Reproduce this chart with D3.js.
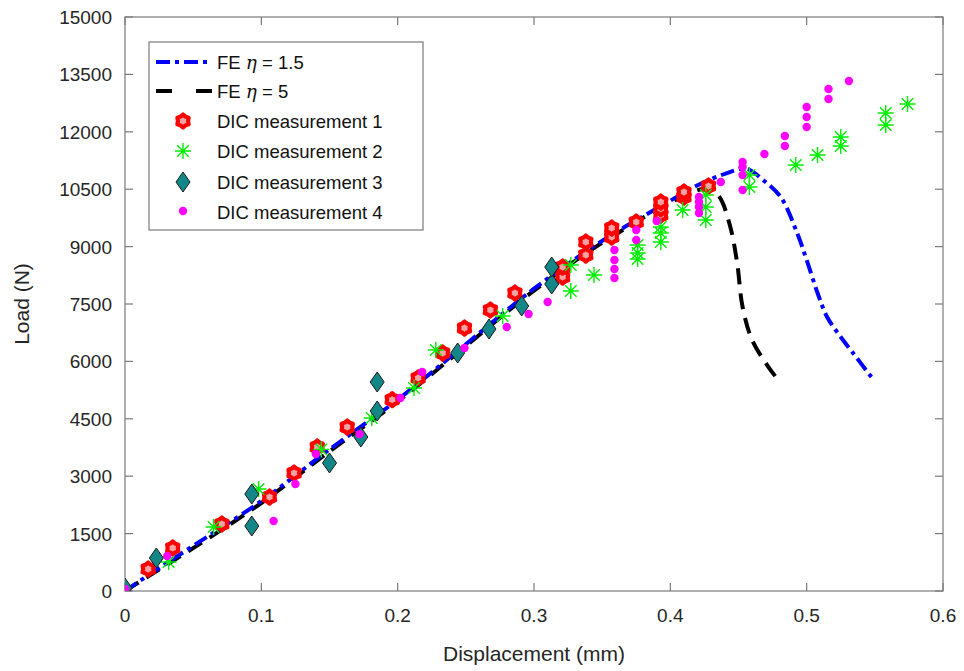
<!DOCTYPE html>
<html>
<head>
<meta charset="utf-8">
<script src="https://cdn.jsdelivr.net/npm/d3@7"></script>
<style>
  html, body { margin: 0; padding: 0; background: #fff; }
  svg { display: block; font-family: Arial, "Liberation Sans", Helvetica, sans-serif; }
</style>
</head>
<body>
<div id="chart"></div>
<script>
// ---- data (displacement mm, load N) ----
const feEta15 = [
  [0, 0], [0.02, 480], [0.05, 1180], [0.1, 2350], [0.15, 3700], [0.2, 5000],
  [0.25, 6450], [0.3, 7900], [0.35, 9150], [0.4, 10200], [0.417, 10550],
  [0.44, 10900], [0.456, 11030], [0.468, 10740], [0.481, 10295], [0.493, 9355],
  [0.5, 8650], [0.508, 7787], [0.515, 7160], [0.525, 6637], [0.534, 6219], [0.548, 5566]
]
const feEta5 = [
  [0, 0], [0.02, 450], [0.05, 1120], [0.1, 2300], [0.15, 3650], [0.2, 4950],
  [0.25, 6400], [0.3, 7850], [0.35, 9100], [0.4, 10150], [0.418, 10450],
  [0.428, 10520], [0.436, 10300], [0.444, 9511], [0.449, 8571], [0.453, 7421],
  [0.46, 6559], [0.472, 5853], [0.478, 5566]
]
const dic1 = [
  [0.017, 575], [0.035, 1124], [0.071, 1751], [0.106, 2456], [0.124, 3083],
  [0.141, 3763], [0.163, 4285], [0.196, 5000], [0.215, 5566], [0.233, 6219],
  [0.249, 6872], [0.268, 7343], [0.286, 7787], [0.321, 8205], [0.321, 8466],
  [0.338, 8780], [0.338, 9120], [0.357, 9250], [0.357, 9485], [0.375, 9642],
  [0.393, 9825], [0.393, 9990], [0.393, 10165], [0.41, 10295], [0.41, 10426], [0.428, 10583]
]
const dic2 = [
  [0.032, 758], [0.065, 1672], [0.098, 2665], [0.144, 3700], [0.181, 4520],
  [0.212, 5305], [0.228, 6297], [0.277, 7186], [0.327, 7840], [0.327, 8518],
  [0.344, 8257], [0.376, 8675], [0.376, 8832], [0.376, 9040], [0.393, 9120],
  [0.393, 9354], [0.393, 9511], [0.409, 9955], [0.426, 9694], [0.426, 10034],
  [0.426, 10347], [0.458, 10557], [0.458, 10870], [0.492, 11131], [0.508, 11393],
  [0.525, 11628], [0.525, 11863], [0.558, 12177], [0.558, 12490], [0.574, 12725]
]
const dic3 = [
  [0, 78], [0.023, 862], [0.093, 1698], [0.093, 2534], [0.15, 3345], [0.173, 4024],
  [0.185, 4703], [0.185, 5461], [0.244, 6219], [0.267, 6846], [0.291, 7447],
  [0.313, 8022], [0.313, 8466]
]
const dic4 = [
  [0, 52], [0.031, 914], [0.109, 1829], [0.125, 2796], [0.14, 3580], [0.172, 4100],
  [0.202, 5043], [0.218, 5722], [0.249, 6350], [0.28, 6898], [0.296, 7238],
  [0.31, 7552], [0.359, 8179], [0.359, 8414], [0.359, 8649], [0.359, 8910],
  [0.375, 9172], [0.375, 9433], [0.39, 9668], [0.421, 9877], [0.421, 10034],
  [0.421, 10165], [0.421, 10295], [0.437, 10687], [0.453, 10478], [0.453, 10870],
  [0.453, 11079], [0.453, 11210], [0.469, 11419], [0.484, 11628], [0.484, 11889],
  [0.5, 12124], [0.5, 12386], [0.5, 12647], [0.516, 12856], [0.516, 13117], [0.531, 13326]
]
const xTicks = [0, 0.1, 0.2, 0.3, 0.4, 0.5, 0.6]
const yTicks = [0, 1500, 3000, 4500, 6000, 7500, 9000, 10500, 12000, 13500, 15000]
const legendLabels = ['FE', 'FE', 'DIC measurement 1', 'DIC measurement 2', 'DIC measurement 3', 'DIC measurement 4']

const W = 964, H = 671
const L = 125, R = 943, T = 17, B = 591
const AX = '#262626'

const svg = d3.select('#chart').append('svg').attr('width', W).attr('height', H)

const x = d3.scaleLinear().domain([0, 0.6]).range([L, R])
const y = d3.scaleLinear().domain([0, 15000]).range([B, T])

// axes box
svg.append('rect').attr('x', L).attr('y', T).attr('width', R - L).attr('height', B - T)
  .attr('fill', 'none').attr('stroke', '#7a7a7a').attr('stroke-width', 1.2)

const TL = 8
const tickG = svg.append('g').attr('stroke', '#7a7a7a').attr('stroke-width', 1.2)
xTicks.forEach(t => {
  tickG.append('line').attr('x1', x(t)).attr('x2', x(t)).attr('y1', B).attr('y2', B - TL)
  tickG.append('line').attr('x1', x(t)).attr('x2', x(t)).attr('y1', T).attr('y2', T + TL)
})
yTicks.forEach(t => {
  tickG.append('line').attr('x1', L).attr('x2', L + TL).attr('y1', y(t)).attr('y2', y(t))
  tickG.append('line').attr('x1', R).attr('x2', R - TL).attr('y1', y(t)).attr('y2', y(t))
})

svg.append('g').selectAll('text').data(xTicks).join('text')
  .attr('x', d => x(d)).attr('y', B + 31).attr('text-anchor', 'middle')
  .attr('font-size', 19).attr('fill', AX).text(d => d === 0 ? '0' : d3.format('.1f')(d))
svg.append('g').selectAll('text').data(yTicks).join('text')
  .attr('x', L - 13).attr('y', d => y(d) + 7).attr('text-anchor', 'end')
  .attr('font-size', 19).attr('fill', AX).text(d => d)

svg.append('text').attr('x', (L + R) / 2).attr('y', 661).attr('text-anchor', 'middle')
  .attr('font-size', 21).attr('fill', AX).text('Displacement (mm)')
svg.append('text').attr('transform', `translate(29,${(T + B) / 2}) rotate(-90)`)
  .attr('text-anchor', 'middle').attr('font-size', 21).attr('fill', AX).text('Load (N)')

// clip
svg.append('defs').append('clipPath').attr('id', 'plot-clip')
  .append('rect').attr('x', L).attr('y', T).attr('width', R - L).attr('height', B - T)
const plot = svg.append('g').attr('clip-path', 'url(#plot-clip)')

const lineLoose = d3.line().x(d => x(d[0])).y(d => y(d[1])).curve(d3.curveCatmullRom.alpha(0.5))

const BLUE_DASH = '14,5,4,5'
const BLACK_DASH = '16,9'

// marker shapes
const hexagram = (r) => {
  const pts = []
  for (let i = 0; i < 12; i++) {
    const a = -Math.PI / 2 + i * Math.PI / 6
    const rr = i % 2 === 0 ? r : r * 0.78
    pts.push([rr * Math.cos(a), rr * Math.sin(a)])
  }
  return 'M' + pts.map(p => p.join(',')).join('L') + 'Z'
}
const asterisk = (r) => {
  const d = r * 0.72
  return `M${-r},0L${r},0M0,${-r}L0,${r}M${-d},${-d}L${d},${d}M${-d},${d}L${d},${-d}`
}
const diamond = (w, h) => `M0,${-h}L${w},0L0,${h}L${-w},0Z`

function drawRed(g, px, py) {
  g.append('path').attr('transform', `translate(${px},${py})`).attr('d', hexagram(6.5))
    .attr('fill', '#f5a3a3').attr('stroke', '#ff0000').attr('stroke-width', 4.2)
    .attr('stroke-linejoin', 'round')
}
function drawGreen(g, px, py) {
  g.append('path').attr('transform', `translate(${px},${py})`).attr('d', asterisk(8))
    .attr('fill', 'none').attr('stroke', '#00ee00').attr('stroke-width', 1.4)
}
function drawTeal(g, px, py) {
  g.append('path').attr('transform', `translate(${px},${py})`).attr('d', diamond(7, 10))
    .attr('fill', '#138787').attr('stroke', '#1a1a1a').attr('stroke-width', 1)
}
function drawMag(g, px, py) {
  g.append('circle').attr('cx', px).attr('cy', py).attr('r', 4.2).attr('fill', '#ff00ff')
}

// FE curves
plot.append('path').datum(feEta5).attr('d', lineLoose)
  .attr('fill', 'none').attr('stroke', '#000').attr('stroke-width', 4).attr('stroke-dasharray', BLACK_DASH)
plot.append('path').datum(feEta15).attr('d', lineLoose)
  .attr('fill', 'none').attr('stroke', '#0000ff').attr('stroke-width', 4).attr('stroke-dasharray', BLUE_DASH)

const mk = plot.append('g')
dic1.forEach(d => drawRed(mk, x(d[0]), y(d[1])))
dic2.forEach(d => drawGreen(mk, x(d[0]), y(d[1])))
dic3.forEach(d => drawTeal(mk, x(d[0]), y(d[1])))
dic4.forEach(d => drawMag(mk, x(d[0]), y(d[1])))

// legend
const lg = svg.append('g')
lg.append('rect').attr('x', 149).attr('y', 42).attr('width', 274).attr('height', 188)
  .attr('fill', '#fff').attr('stroke', '#7a7a7a').attr('stroke-width', 1.2)
const rowY = [62, 91, 121, 151, 182, 212]
const tx = 217, mx = 183
lg.append('line').attr('x1', 156).attr('x2', 212).attr('y1', rowY[0]).attr('y2', rowY[0])
  .attr('stroke', '#0000ff').attr('stroke-width', 4).attr('stroke-dasharray', BLUE_DASH)
lg.append('line').attr('x1', 156).attr('x2', 212).attr('y1', rowY[1]).attr('y2', rowY[1])
  .attr('stroke', '#000').attr('stroke-width', 4).attr('stroke-dasharray', '16,24')
drawRed(lg, mx, rowY[2])
drawGreen(lg, mx, rowY[3])
drawTeal(lg, mx, rowY[4])
drawMag(lg, mx, rowY[5] - 1)

const etaText = (row, val) => {
  const t = lg.append('text').attr('x', tx).attr('y', rowY[row] + 6.5)
    .attr('font-size', 18.5).attr('fill', '#111')
  t.append('tspan').text(legendLabels[row] + ' ')
  t.append('tspan').attr('font-family', '"DejaVu Serif", "Liberation Serif", serif')
    .attr('font-style', 'italic').text('η')
  t.append('tspan').text(' = ' + val)
}
etaText(0, '1.5')
etaText(1, '5')
for (let i = 2; i < 6; i++) {
  lg.append('text').attr('x', tx).attr('y', rowY[i] + 6.5)
    .attr('font-size', 18.5).attr('fill', '#111').text(legendLabels[i])
}
</script>
</body>
</html>
